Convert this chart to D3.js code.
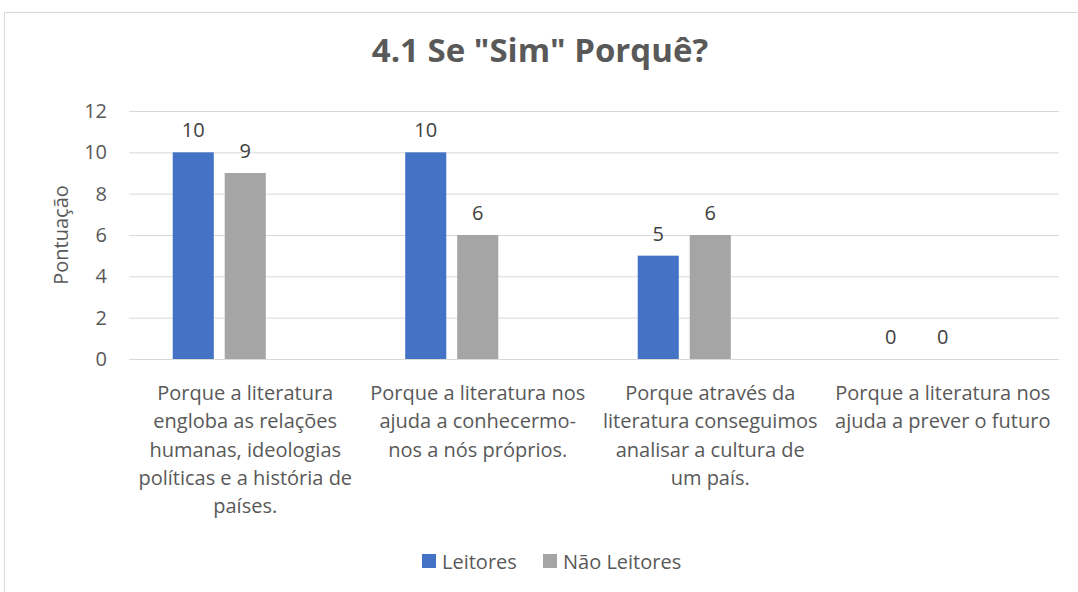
<!DOCTYPE html>
<html>
<head>
<meta charset="utf-8">
<script src="https://cdn.jsdelivr.net/npm/d3@7"></script>
<style>
  body { margin: 0; background: #fff; }
  svg { display: block; font-family: "Open Sans", "Noto Sans", sans-serif; }
</style>
</head>
<body>
<svg></svg>
<script>
// chart data
var categories = [
    ['Porque a literatura', 'engloba as relações', 'humanas, ideologias', 'políticas e a história de', 'países.'],
    ['Porque a literatura nos', 'ajuda a conhecermo-', 'nos a nós próprios.'],
    ['Porque através da', 'literatura conseguimos', 'analisar a cultura de', 'um país.'],
    ['Porque a literatura nos', 'ajuda a prever o futuro']
];
var seriesNames = ['Leitores', 'Não Leitores'];
var leitores = [10, 10, 5, 0];
var naoLeitores = [9, 6, 6, 0];
var yTicks = [0, 2, 4, 6, 8, 10, 12];
var colors = ['#4472C4', '#A5A5A5'];

var width = 1078, height = 592;
var fontSize = '20px';
var svg = d3.select('svg').attr('width', width).attr('height', height);

// chart border
svg.append('rect')
    .attr('x', 4.5).attr('y', 12.5)
    .attr('width', 1100).attr('height', 600)
    .attr('fill', 'none').attr('stroke', '#d9d9d9');

svg.append('text')
    .attr('x', 540).attr('y', 62)
    .attr('text-anchor', 'middle')
    .attr('fill', '#595959')
    .style('font-size', '33px')
    .style('font-weight', 'bold')
    .text('4.1 Se "Sim" Porquê?');

var plot = {left: 129, right: 1059, top: 111, bottom: 359};

var x0 = d3.scaleBand()
    .domain(d3.range(categories.length))
    .range([plot.left, plot.right])
    .paddingInner(0.376)
    .paddingOuter(0.188);

// Excel keeps a slot for a third (empty) series
var x1 = d3.scaleBand()
    .domain([0, 1, 2])
    .range([0, x0.bandwidth()])
    .paddingInner(0.21);

var y = d3.scaleLinear()
    .domain([0, 12])
    .range([plot.bottom, plot.top]);

// gridlines + ticks
var yAxis = svg.append('g')
    .attr('transform', `translate(${plot.left},0)`)
    .call(d3.axisLeft(y).tickValues(yTicks).tickSize(-(plot.right - plot.left)).tickPadding(22));
yAxis.select('.domain').remove();
yAxis.selectAll('line').attr('stroke', '#d9d9d9');
yAxis.selectAll('text')
    .attr('fill', '#595959')
    .style('font-size', fontSize)
    .style('font-family', '"Open Sans", sans-serif');

svg.append('text')
    .attr('transform', `translate(68,${(plot.top + plot.bottom) / 2}) rotate(-90)`)
    .attr('text-anchor', 'middle')
    .attr('fill', '#595959')
    .style('font-size', fontSize)
    .text('Pontuação');

var seriesData = [leitores, naoLeitores];
seriesData.forEach(function (vals, s) {
    svg.selectAll('.bar-' + s)
        .data(vals)
        .enter()
        .append('rect')
        .attr('class', 'bar-' + s)
        .attr('x', (d, i) => x0(i) + x1(s))
        .attr('y', d => y(d))
        .attr('width', x1.bandwidth())
        .attr('height', d => y(0) - y(d))
        .attr('fill', colors[s]);

    svg.selectAll('.lbl-' + s)
        .data(vals)
        .enter()
        .append('text')
        .attr('class', 'lbl-' + s)
        .attr('x', (d, i) => x0(i) + x1(s) + x1.bandwidth() / 2)
        .attr('y', d => y(d) - 15)
        .attr('text-anchor', 'middle')
        .attr('fill', '#404040')
        .style('font-size', fontSize)
        .text(d => d);
});

// category labels
var catG = svg.selectAll('.cat')
    .data(categories)
    .enter()
    .append('text')
    .attr('class', 'cat')
    .attr('text-anchor', 'middle')
    .attr('fill', '#595959')
    .style('font-size', fontSize);
catG.selectAll('tspan')
    .data((d, i) => d.map(t => ({t: t, i: i})))
    .enter()
    .append('tspan')
    .attr('x', d => x0(d.i) + x0.bandwidth() / 2)
    .attr('y', (d, j) => 400 + j * 28.3)
    .text(d => d.t);

// legend
var legendX = [422, 543];
var legend = svg.selectAll('.legend')
    .data(seriesNames)
    .enter()
    .append('g')
    .attr('transform', (d, i) => `translate(${legendX[i]},554)`);
legend.append('rect')
    .attr('width', 14).attr('height', 14)
    .attr('fill', (d, i) => colors[i]);
legend.append('text')
    .attr('x', 20).attr('y', 15)
    .attr('fill', '#595959')
    .style('font-size', fontSize)
    .text(d => d);
</script>
</body>
</html>
